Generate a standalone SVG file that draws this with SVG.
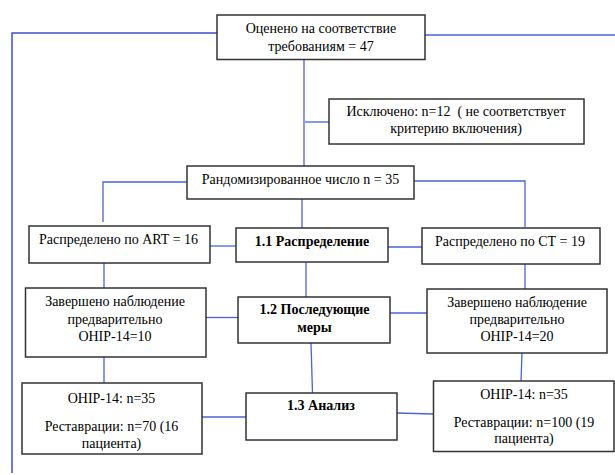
<svg xmlns="http://www.w3.org/2000/svg" width="615" height="475" viewBox="0 0 615 475">
<style>
.box{fill:#fff;stroke:#333;stroke-width:1.5}
.t{font-family:"Liberation Serif","DejaVu Serif",serif;font-size:14px;fill:#000;text-anchor:middle}
.b{font-weight:bold}
.c{fill:none;stroke:#4a63d8;stroke-width:1.3}
.c2{fill:none;stroke:#3d4fcf;stroke-width:1.5}
</style>
<rect width="615" height="475" fill="#fff"/>
<g id="connectors">
<polyline class="c2" points="217,33 12,33 12,473"/>
<line class="c" x1="425" y1="35" x2="615" y2="35"/>
<line class="c" x1="304" y1="60" x2="304" y2="166"/>
<line class="c" x1="305" y1="122" x2="329" y2="122"/>
<polyline class="c" points="187,182 103,182 103,222"/>
<polyline class="c" points="414,181 525,181 525,227"/>
<line class="c" x1="302" y1="199" x2="302" y2="228"/>
<line class="c" x1="210" y1="246" x2="236" y2="246"/>
<line class="c" x1="388" y1="247" x2="422" y2="247"/>
<line class="c" x1="104" y1="263" x2="104" y2="288"/>
<line class="c" x1="306" y1="262" x2="306" y2="297"/>
<line class="c" x1="525" y1="264" x2="525" y2="289"/>
<line class="c" x1="206" y1="317.5" x2="238" y2="317.5"/>
<line class="c" x1="390" y1="313" x2="427" y2="313"/>
<line class="c" x1="104" y1="357" x2="104" y2="383"/>
<line class="c" x1="311" y1="343" x2="312.5" y2="393"/>
<line class="c" x1="522" y1="353" x2="521" y2="381"/>
<line class="c" x1="202" y1="417" x2="246" y2="417"/>
<line class="c" x1="397" y1="413" x2="433" y2="414"/>
</g>
<g id="assessed">
<rect class="box" x="217" y="15" width="208" height="44.5"/>
<text class="t" x="321" y="33">Оценено на соответствие</text>
<text class="t" x="321" y="50.5">требованиям = 47</text>
</g>
<g id="excluded">
<rect class="box" x="329" y="99" width="255" height="45"/>
<text class="t" x="456" y="115.5" xml:space="preserve">Исключено: n=12  ( не соответствует</text>
<text class="t" x="456" y="132.5">критерию включения)</text>
</g>
<g id="randomized">
<rect class="box" x="187" y="166" width="227" height="33"/>
<text class="t" x="300.5" y="183.5">Рандомизированное число n = 35</text>
</g>
<g id="art">
<rect class="box" x="29" y="226" width="181" height="37"/>
<text class="t" x="118.5" y="243.5">Распределено по ART = 16</text>
</g>
<g id="alloc">
<rect class="box" x="236" y="228" width="152" height="34"/>
<text class="t b" x="312" y="245.5">1.1 Распределение</text>
</g>
<g id="ct">
<rect class="box" x="422" y="228" width="178" height="36"/>
<text class="t" x="510" y="245.5">Распределено по СТ = 19</text>
</g>
<g id="follow-left">
<rect class="box" x="25.5" y="288" width="180.5" height="69"/>
<text class="t" x="115" y="306">Завершено наблюдение</text>
<text class="t" x="115" y="323.5">предварительно</text>
<text class="t" x="115" y="340.5">OHIP-14=10</text>
</g>
<g id="followup">
<rect class="box" x="238" y="297" width="152" height="46"/>
<text class="t b" x="314.5" y="313.5">1.2 Последующие</text>
<text class="t b" x="314.5" y="331.5">меры</text>
</g>
<g id="follow-right">
<rect class="box" x="427" y="289" width="180" height="64"/>
<text class="t" x="517" y="307">Завершено наблюдение</text>
<text class="t" x="517" y="323.5">предварительно</text>
<text class="t" x="517" y="340.5">OHIP-14=20</text>
</g>
<g id="ohip-left">
<rect class="box" x="22" y="383" width="180" height="71"/>
<text class="t" x="111.5" y="402.5">OHIP-14: n=35</text>
<text class="t" x="111.5" y="430.5">Реставрации: n=70 (16</text>
<text class="t" x="111.5" y="447.5">пациента)</text>
</g>
<g id="analysis">
<rect class="box" x="246" y="393" width="151" height="47"/>
<text class="t b" x="321" y="409.5">1.3 Анализ</text>
</g>
<g id="ohip-right">
<rect class="box" x="433.5" y="381" width="180.5" height="70.5"/>
<text class="t" x="524" y="398.5">OHIP-14: n=35</text>
<text class="t" x="524" y="426.5">Реставрации: n=100 (19</text>
<text class="t" x="524" y="443">пациента)</text>
</g>
</svg>
